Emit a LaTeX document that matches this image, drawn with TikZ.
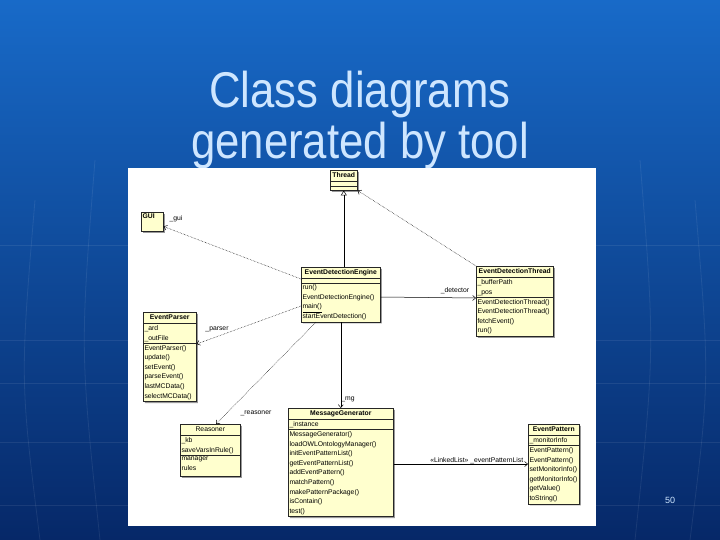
\documentclass[tikz,border=0pt]{standalone}
\usepackage{fontspec}
\setmainfont{Liberation Sans}
\usepackage{tikz}
\usetikzlibrary{arrows.meta,shapes.multipart,shadows,positioning}
\usepackage{xcolor}

\definecolor{slidetop}{RGB}{24,106,200}
\definecolor{slidemid}{RGB}{16,88,178}
\definecolor{slidebot}{RGB}{6,40,104}
\definecolor{titleblue}{RGB}{206,230,255}
\definecolor{umlyellow}{RGB}{255,255,206}

\tikzset{
  umlclass/.style={rectangle split, rectangle split parts=3, draw=black!85,
    line width=0.6pt, fill=umlyellow, font=\fontsize{6.8}{9.6}\selectfont,
    inner xsep=1.2pt, inner ysep=1.6pt, align=left, anchor=north west,
    drop shadow={shadow xshift=1.6pt, shadow yshift=-1.6pt, fill=black!40, opacity=1}},
  depline/.style={densely dotted, line width=0.5pt},
  assocline/.style={line width=0.5pt},
  vhead/.style={-{Straight Barb[length=3pt,width=5pt]}},
  rolelabel/.style={font=\fontsize{6.8}{8}\selectfont, inner sep=0.5pt},
  titletext/.style={anchor=base, text=titleblue, font=\fontsize{43.7}{50}\selectfont},
  globe/.style={draw=white, opacity=0.08, line width=0.8pt}
}
\newcommand{\clsname}[1]{\hbox to\hsize{\hss\textbf{#1}\rule[-2pt]{0pt}{7.5pt}\hss}}
\newcommand{\gapline}{\rule{0pt}{0.5pt}}

\begin{document}
\begin{tikzpicture}[x=1pt,y=-1pt]
% slide
\shade[top color=slidetop, middle color=slidemid, bottom color=slidebot] (0,0) rectangle (720,540);
\useasboundingbox (0,0) rectangle (720,540);
\foreach \yy in {245,340,383,442,505}
  \draw[globe] (0,\yy) -- (720,\yy);
\draw[globe] (35,200) .. controls (20,380) .. (40,540);
\draw[globe] (95,160) .. controls (80,350) .. (100,540);
\draw[globe] (640,160) .. controls (655,350) .. (635,540);
\draw[globe] (695,200) .. controls (710,380) .. (690,540);

% title
\node[titletext] (title1) at (360,108) {\scalebox{1}[1.15]{Class diagrams}};
\node[titletext] (title2) at (360,159) {\scalebox{1}[1.15]{generated by tool}};
\node[text=titleblue, font=\fontsize{9}{10}\selectfont] (pagenum) at (670,500) {50};

% diagram
\fill[white] (128,168) rectangle (596,526);

\node[umlclass, text width=24.6pt] (thread) at (330,170)
  {\clsname{Thread}\nodepart{two}\gapline\nodepart{three}\gapline};
\node[draw=black!85, line width=0.6pt, fill=umlyellow, minimum width=22pt, minimum height=19pt,
  anchor=north west, drop shadow={shadow xshift=1.6pt, shadow yshift=-1.6pt, fill=black!40, opacity=1}]
  (gui) at (141,212) {};
\node[font=\fontsize{6.8}{8}\selectfont, anchor=north west, inner sep=1.5pt] (guiname)
  at (gui.north west) {\textbf{GUI}};
\node[umlclass, text width=76.6pt] (engine) at (301,267)
  {\clsname{EventDetectionEngine}\nodepart{two}\gapline
   \nodepart{three}run()\\EventDetectionEngine()\\\underline{main()}\\startEventDetection()};
\node[umlclass, text width=74.6pt] (detthread) at (476,266)
  {\clsname{EventDetectionThread}\nodepart{two}\_bufferPath\\\_pos
   \nodepart{three}EventDetectionThread()\\EventDetectionThread()\\fetchEvent()\\run()};
\node[umlclass, text width=50.6pt] (parser) at (143,312)
  {\clsname{EventParser}\nodepart{two}\_ard\\\_outFile
   \nodepart{three}EventParser()\\update()\\setEvent()\\parseEvent()\\lastMCData()\\selectMCData()};
\node[umlclass, text width=57.6pt] (reasoner) at (180,424)
  {\hbox to\hsize{\hss Reasoner\rule[-2pt]{0pt}{7.5pt}\hss}\nodepart{two}\_kb\\saveVarsInRule()
   \nodepart{three}manager\\rules\rule[-4pt]{0pt}{0pt}};
\node[umlclass, text width=102.6pt] (msggen) at (288,408)
  {\clsname{MessageGenerator}\nodepart{two}\_instance
   \nodepart{three}MessageGenerator()\\loadOWLOntologyManager()\\initEventPatternList()\\getEventPatternList()\\addEventPattern()\\matchPattern()\\makePatternPackage()\\isContain()\\test()};
\node[umlclass, text width=48.6pt] (pattern) at (528,424)
  {\clsname{EventPattern}\nodepart{two}\_monitorInfo
   \nodepart{three}EventPattern()\\EventPattern()\\setMonitorInfo()\\getMonitorInfo()\\getValue()\\toString()};

% connectors
\draw[assocline, -{Triangle[open,length=5pt,width=6pt]}] (engine.north -| thread.south) -- (thread.south);
\draw[depline, vhead] (detthread.north west) -- (thread.south east);
\draw[depline, vhead] ([yshift=-12pt]engine.north west) -- ([yshift=-14.5pt]gui.north east);
\draw[depline, vhead] ([yshift=-39pt]engine.north west) -- ([yshift=-32pt]parser.north east);
\draw[depline, vhead] ([xshift=15pt]engine.south west) -- ([xshift=36pt]reasoner.north west);
\draw[assocline, vhead] (engine.south) -- (msggen.north);
\draw[assocline, vhead] ([yshift=-30pt]engine.north east) -- ([yshift=-32pt]detthread.north west);
\draw[assocline, vhead] (pattern.west -| msggen.east) -- (pattern.west);

% role names
\node[rolelabel] (guilbl) at (176,219) {\_gui};
\node[rolelabel] (parserlbl) at (217,329) {\_parser};
\node[rolelabel] (reasonerlbl) at (256,413) {\_reasoner};
\node[rolelabel] (mglbl) at (348,399) {\_mg};
\node[rolelabel] (detlbl) at (455,291) {\_detector};
\node[rolelabel, anchor=south east] (listlbl) at ([xshift=-4pt]pattern.west)
  {«LinkedList» \_eventPatternList};
\end{tikzpicture}
\end{document}
